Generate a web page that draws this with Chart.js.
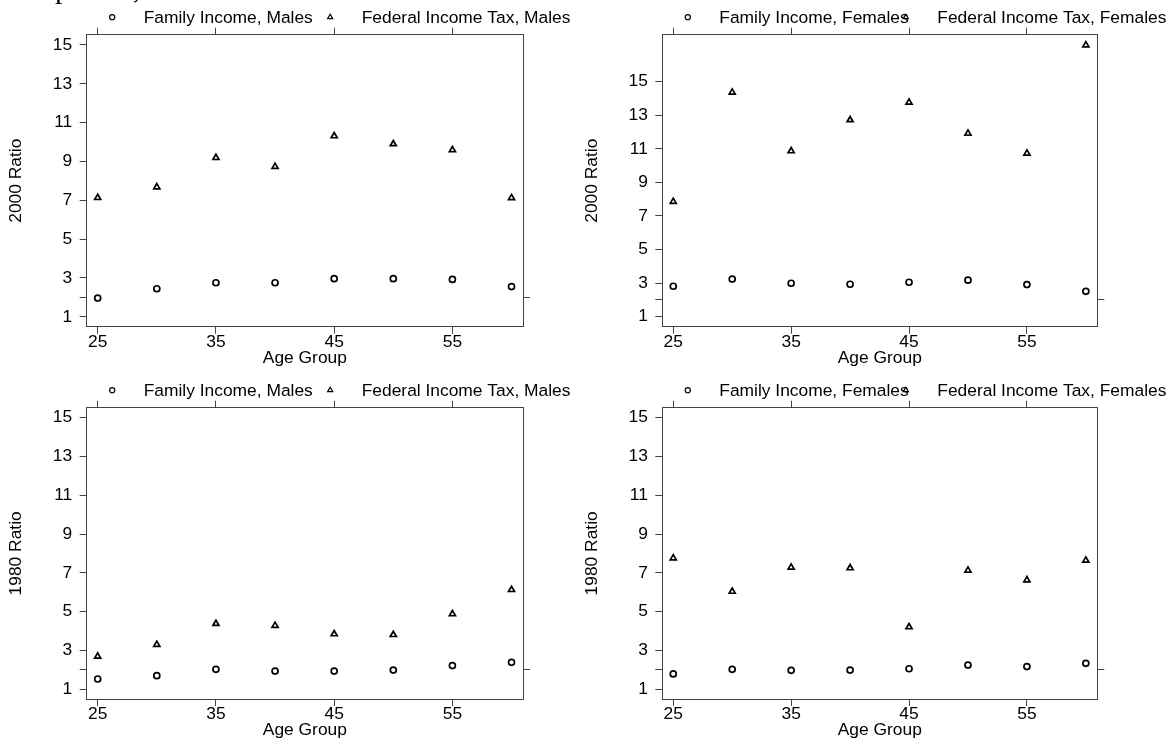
<!DOCTYPE html>
<html>
<head>
<meta charset="utf-8">
<script src="https://cdn.jsdelivr.net/npm/chart.js@4.4.1/dist/chart.umd.min.js"></script>
<style>
  html, body { margin: 0; padding: 0; background: #fff; }
  #wrap { position: relative; width: 1173px; height: 747px; overflow: hidden; background: #fff; }
  #wrap canvas { position: absolute; left: 0; top: 0; }
</style>
</head>
<body>
<div id="wrap">
  <canvas id="p2000m" width="1173" height="747"></canvas>
  <canvas id="p2000f" width="1173" height="747"></canvas>
  <canvas id="p1980m" width="1173" height="747"></canvas>
  <canvas id="p1980f" width="1173" height="747"></canvas>
</div>
<script>
// Age groups on the x axis
const ages = [25, 30, 35, 40, 45, 50, 55, 60];

// 2000 ratios
const income2000Males   = [1.96, 2.44, 2.75, 2.75, 2.96, 2.96, 2.92, 2.55];
const tax2000Males      = [7.13, 7.68, 9.19, 8.73, 10.31, 9.90, 9.59, 7.12];
const income2000Females = [2.81, 3.24, 2.99, 2.93, 3.05, 3.17, 2.91, 2.51];
const tax2000Females    = [7.85, 14.36, 10.87, 12.72, 13.77, 11.92, 10.73, 17.18];

// 1980 ratios
const income1980Males   = [1.53, 1.70, 2.03, 1.94, 1.94, 1.99, 2.22, 2.39];
const tax1980Males      = [2.70, 3.30, 4.38, 4.28, 3.85, 3.81, 4.88, 6.13];
const income1980Females = [1.79, 2.03, 1.98, 1.99, 2.06, 2.25, 2.17, 2.34];
const tax1980Females    = [7.76, 6.04, 7.28, 7.25, 4.21, 7.13, 6.63, 7.64];

// Tick values
const xTickValues = [25, 35, 45, 55];
const yTickValues = [1, 2, 3, 5, 7, 9, 11, 13, 15];
const yTickLabelled = [1, 3, 5, 7, 9, 11, 13, 15];
const yRightTickValues = [2];

const FONT = '"Liberation Sans", Arial, Helvetica, sans-serif';
const FONT_SIZE = 17.4;
const INK = '#000';
const FRAME = '#444';
const X_MIN = 24.07, X_MAX = 60.97;

// axis box sizes (px)
const Y_AXIS_W = 80.7, Y2_AXIS_W = 10, X_AXIS_H = 42.1, X2_AXIS_H = 10;

const panels = [
  { id: 'p2000m', box: [86.7, 34.7, 523, 326.7], yTitle: '2000 Ratio', yMin: 0.485, yMax: 15.53,
    sex: 'Males', income: income2000Males, tax: tax2000Males, heading: true },
  { id: 'p2000f', box: [662.3, 34.7, 1097.3, 326.7], yTitle: '2000 Ratio', yMin: 0.40, yMax: 17.80,
    sex: 'Females', income: income2000Females, tax: tax2000Females },
  { id: 'p1980m', box: [86.7, 407.7, 523, 699], yTitle: '1980 Ratio', yMin: 0.50, yMax: 15.51,
    sex: 'Males', income: income1980Males, tax: tax1980Males },
  { id: 'p1980f', box: [662.3, 407.7, 1097.3, 699], yTitle: '1980 Ratio', yMin: 0.50, yMax: 15.51,
    sex: 'Females', income: income1980Females, tax: tax1980Females }
];

// Key row above each panel: symbol + label for each series
const keyPlugin = {
  id: 'keyRow',
  afterDraw(chart) {
    const ctx = chart.ctx;
    const area = chart.chartArea;
    const symbolOffsets = [25.5, 243.5];
    const textOffsets = [57, 275];
    ctx.save();
    chart.data.datasets.forEach((ds, i) => {
      ctx.strokeStyle = INK;
      ctx.fillStyle = 'rgba(0,0,0,0)';
      ctx.lineWidth = 1.2;
      Chart.helpers.drawPoint(ctx, {
        pointStyle: ds.pointStyle, radius: ds.pointRadius * 0.85, rotation: 0, borderWidth: 1.2
      }, area.left + symbolOffsets[i], area.top - 17.5);
      ctx.fillStyle = INK;
      ctx.font = FONT_SIZE + 'px ' + FONT;
      ctx.textAlign = 'left';
      ctx.textBaseline = 'alphabetic';
      ctx.fillText(ds.label, area.left + textOffsets[i], area.top - 12);
    });
    ctx.restore();
  }
};

// Page heading sits just above the top edge; only its descenders reach the page
const headingPlugin = {
  id: 'pageHeading',
  afterDraw(chart) {
    const ctx = chart.ctx;
    ctx.save();
    ctx.fillStyle = INK;
    ctx.font = '30px "Liberation Serif", "DejaVu Serif", serif';
    ctx.textBaseline = 'alphabetic';
    ctx.fillText('p', 55, -2);
    ctx.fillText(',', 133, -2);
    ctx.restore();
  }
};

function tickList(values) {
  return values.map(v => ({ value: v }));
}

function makePanel(p) {
  const [L, T, R, B] = p.box;
  const gridOpts = { display: true, drawOnChartArea: false, drawTicks: true, tickLength: 7, color: FRAME, lineWidth: 1 };
  const borderOpts = { display: true, color: FRAME, width: 1 };
  const tickFont = { family: FONT, size: FONT_SIZE, lineHeight: 1 };
  const titleFont = { family: FONT, size: FONT_SIZE, lineHeight: 1.2 };

  const datasets = [
    {
      label: 'Family Income, ' + p.sex,
      data: ages.map((a, i) => ({ x: a, y: p.income[i] })),
      pointStyle: 'circle', pointRadius: 3, pointBorderWidth: 1.7,
      pointBorderColor: INK, pointBackgroundColor: 'rgba(0,0,0,0)', showLine: false
    },
    {
      label: 'Federal Income Tax, ' + p.sex,
      data: ages.map((a, i) => ({ x: a, y: p.tax[i] })),
      pointStyle: 'triangle', pointRadius: 3.5, pointBorderWidth: 1.7,
      pointBorderColor: INK, pointBackgroundColor: 'rgba(0,0,0,0)', showLine: false
    }
  ];

  const plugins = [keyPlugin];
  if (p.heading) plugins.push(headingPlugin);

  return new Chart(document.getElementById(p.id), {
    type: 'scatter',
    data: { datasets },
    plugins,
    options: {
      responsive: false,
      animation: false,
      events: [],
      devicePixelRatio: 1,
      layout: {
        autoPadding: false,
        padding: {
          left: L - Y_AXIS_W,
          top: T - X2_AXIS_H,
          right: 1173 - R - Y2_AXIS_W,
          bottom: 747 - B - X_AXIS_H
        }
      },
      plugins: { legend: { display: false }, tooltip: { enabled: false }, title: { display: false } },
      scales: {
        x: {
          type: 'linear', position: 'bottom', min: X_MIN, max: X_MAX,
          afterBuildTicks: s => { s.ticks = tickList(xTickValues); },
          afterFit: s => { s.height = X_AXIS_H; },
          ticks: { color: INK, font: tickFont, padding: 0, maxRotation: 0, autoSkip: false, callback: v => String(v) },
          grid: gridOpts, border: borderOpts,
          title: { display: true, text: 'Age Group', color: INK, font: titleFont, padding: 0 }
        },
        x2: {
          type: 'linear', position: 'top', min: X_MIN, max: X_MAX,
          afterBuildTicks: s => { s.ticks = tickList(xTickValues); },
          afterFit: s => { s.height = X2_AXIS_H; },
          ticks: { color: INK, font: tickFont, padding: 0, maxRotation: 0, autoSkip: false, callback: () => '' },
          grid: gridOpts, border: borderOpts
        },
        y: {
          type: 'linear', position: 'left', min: p.yMin, max: p.yMax,
          afterBuildTicks: s => { s.ticks = tickList(yTickValues); },
          afterFit: s => { s.width = Y_AXIS_W; },
          ticks: { color: INK, font: tickFont, padding: 7.5, autoSkip: false,
                   callback: v => yTickLabelled.includes(v) ? String(v) : '' },
          grid: gridOpts, border: borderOpts,
          title: { display: true, text: p.yTitle, color: INK, font: titleFont, padding: 0 }
        },
        y2: {
          type: 'linear', position: 'right', min: p.yMin, max: p.yMax,
          afterBuildTicks: s => { s.ticks = tickList(yRightTickValues); },
          afterFit: s => { s.width = Y2_AXIS_W; },
          ticks: { color: INK, font: tickFont, padding: 0, autoSkip: false, callback: () => '' },
          grid: gridOpts, border: borderOpts
        }
      }
    }
  });
}

panels.forEach(makePanel);
</script>
</body>
</html>
